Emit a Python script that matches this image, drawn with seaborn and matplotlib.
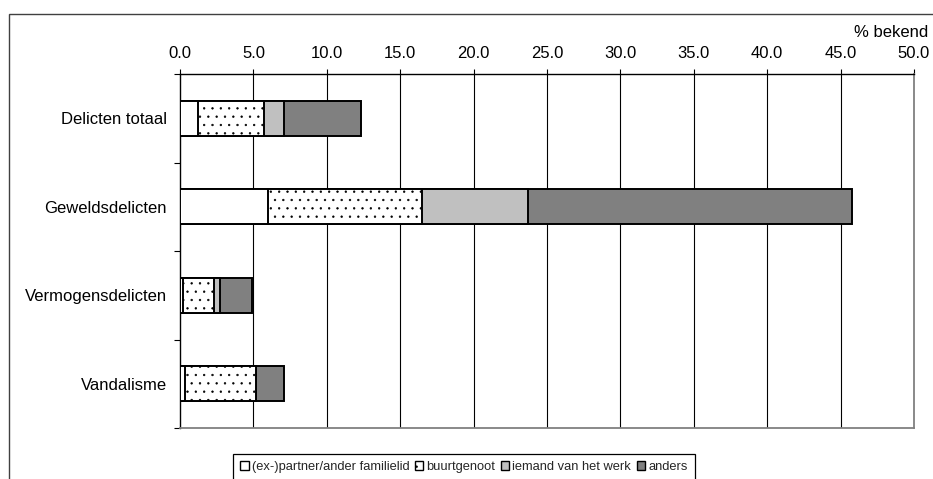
import matplotlib
matplotlib.use("Agg")
import matplotlib.pyplot as plt
from matplotlib.patches import Patch, Rectangle
from matplotlib.ticker import FixedLocator
import numpy as np
import pandas as pd
import seaborn as sns

categories = ["Delicten totaal", "Geweldsdelicten", "Vermogensdelicten", "Vandalisme"]
series_names = ["(ex-)partner/ander familielid", "buurtgenoot", "iemand van het werk", "anders"]
partner = [1.2, 6.0, 0.2, 0.35]
buurt = [4.5, 10.5, 2.1, 4.8]
werk = [1.4, 7.2, 0.45, 0.05]
anders = [5.2, 22.1, 2.15, 1.9]
x_ticks = [0, 5, 10, 15, 20, 25, 30, 35, 40, 45, 50]
x_unit = "% bekend"

face_colors = ["white", "white", "#c0c0c0", "#808080"]
hatches = [None, "..", None, None]

sns.set_theme(style="white")
plt.rcParams["font.family"] = ["Liberation Sans", "DejaVu Sans"]
plt.rcParams["hatch.linewidth"] = 0.45
plt.rcParams["hatch.color"] = "#333333"

df = pd.DataFrame({"cat": categories, "p": partner, "b": buurt, "w": werk, "a": anders})
cum = np.cumsum(df[["p", "b", "w", "a"]].to_numpy(), axis=1)

fig = plt.figure(figsize=(9.33, 4.79), dpi=100)
ax = fig.add_axes([180 / 933, 1 - 428 / 479, (914 - 180) / 933, (428 - 74) / 479])

for k in [3, 2, 1, 0]:
    sns.barplot(x=cum[:, k], y=df["cat"], orient="h", ax=ax, color=face_colors[k],
                saturation=1, width=0.4, errorbar=None, edgecolor="black",
                linewidth=1.4, hatch=hatches[k], zorder=3)

ax.set_xlim(0, 50)
ax.set_ylim(3.5, -0.5)
ax.set_xlabel("")
ax.set_ylabel("")
ax.set_xticks(x_ticks)
ax.set_xticklabels([f"{v:.1f}" for v in x_ticks])
ax.xaxis.tick_top()
ax.tick_params(axis="x", which="major", top=True, bottom=False, direction="out",
               length=3.5, width=0.8, color="black", pad=6, labelsize=12, labelcolor="black")
ax.yaxis.set_minor_locator(FixedLocator([-0.5, 0.5, 1.5, 2.5, 3.5]))
ax.tick_params(axis="y", which="major", left=True, length=0, pad=9.5, labelsize=12, labelcolor="black")
ax.tick_params(axis="y", which="minor", left=True, direction="out", length=4, width=0.8, color="black")

for v in x_ticks[1:-1]:
    ax.axvline(v, color="black", lw=0.8, zorder=1)

for side in ["left", "top"]:
    ax.spines[side].set_color("black")
    ax.spines[side].set_linewidth(1.0)
for side in ["right", "bottom"]:
    ax.spines[side].set_color("#808080")
    ax.spines[side].set_linewidth(1.3)
    ax.spines[side].set_visible(True)

fig.text(928 / 933, 1 - 32.5 / 479, x_unit, ha="right", va="center", fontsize=12, color="black")

handles = [Patch(facecolor=face_colors[k], edgecolor="black", hatch=hatches[k], linewidth=1.0)
           for k in range(4)]
leg = fig.legend(handles, series_names, loc="upper left",
                 bbox_to_anchor=(233 / 933, 1 - 454 / 479), bbox_transform=fig.transFigure,
                 ncol=4, fontsize=9.3, frameon=True, fancybox=False, framealpha=1,
                 edgecolor="black", handlelength=0.65, handleheight=0.65, handletextpad=0.25,
                 columnspacing=0.42, borderpad=0.55, borderaxespad=0)
leg.get_frame().set_linewidth(0.9)

fig.add_artist(Rectangle((9 / 933, -0.1), 1.2, 1 - 14 / 479 + 0.1, transform=fig.transFigure,
                         fill=False, edgecolor="#404040", linewidth=1.0))

fig.savefig("out.png", dpi=100)
